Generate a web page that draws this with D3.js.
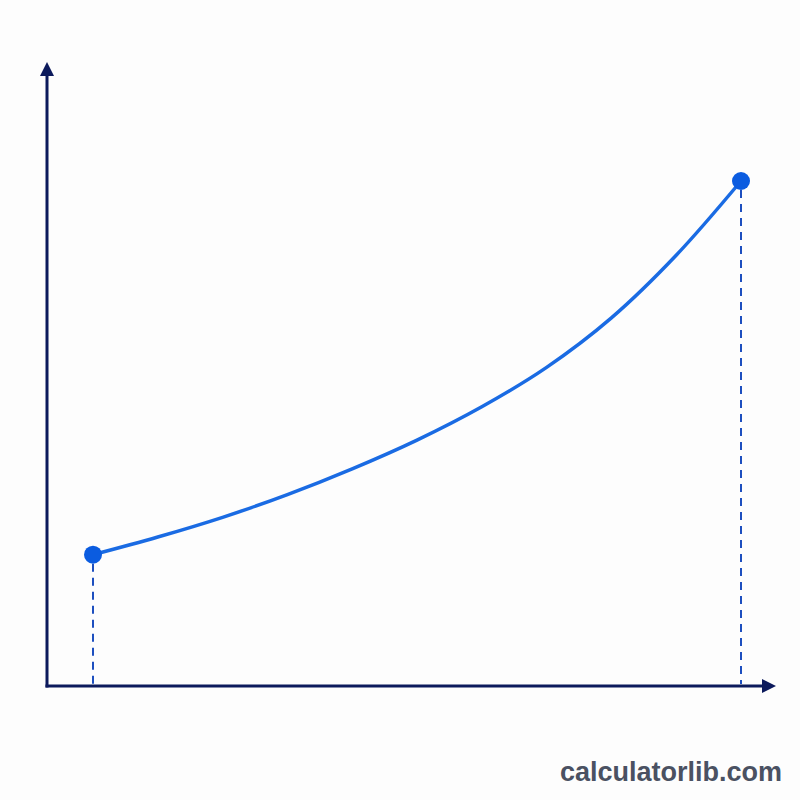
<!DOCTYPE html>
<html>
<head>
<meta charset="utf-8">
<script src="https://cdn.jsdelivr.net/npm/d3@7"></script>
<style>
  html, body { margin: 0; padding: 0; background: #fdfdfd; }
  svg { display: block; }
</style>
</head>
<body>
<div id="chart"></div>
<script>
// Data
const tValues = [0, 1, 2, 3, 4, 5, 6, 7, 8, 9, 10];
const yValues = [26, 29.5, 33.4, 37.9, 43.0, 48.7, 55.3, 63.1, 72.9, 85.3, 100];
const endpoints = [0, 10]; // marked points

const width = 800;
const height = 800;

const svg = d3.select('#chart')
    .append('svg')
    .attr('width', width)
    .attr('height', height);

svg.append('rect')
    .attr('width', width)
    .attr('height', height)
    .attr('fill', '#fdfdfd');

// Scales
const x = d3.scaleLinear().domain([0, 10]).range([93, 741]);
const y = d3.scaleLinear().domain([0, 100]).range([686, 181]);

const axisColor = '#0c1a5c';
const originX = 47;
const originY = y(0);

// Axes with arrows
svg.append('line')
    .attr('x1', originX).attr('y1', originY + 1.5)
    .attr('x2', originX).attr('y2', 72)
    .attr('stroke', axisColor)
    .attr('stroke-width', 3);
svg.append('path')
    .attr('d', `M${originX - 7},76 L${originX},62 L${originX + 7},76 Z`)
    .attr('fill', axisColor);

svg.append('line')
    .attr('x1', originX - 1.5).attr('y1', originY)
    .attr('x2', 766).attr('y2', originY)
    .attr('stroke', axisColor)
    .attr('stroke-width', 3);
svg.append('path')
    .attr('d', `M762,${originY - 7} L776,${originY} L762,${originY + 7} Z`)
    .attr('fill', axisColor);

// Dashed drop lines
svg.selectAll('.drop')
    .data(endpoints)
    .enter()
    .append('line')
    .attr('class', 'drop')
    .attr('x1', d => x(d))
    .attr('x2', d => x(d))
    .attr('y1', d => y(yValues[tValues.indexOf(d)]) + 9)
    .attr('y2', originY - 2)
    .attr('stroke', '#1d4fbf')
    .attr('stroke-width', 2)
    .attr('stroke-dasharray', '8,6');

// Curve
const pts = tValues.map((t, i) => [t, yValues[i]]);
const line = d3.line()
    .x(d => x(d[0]))
    .y(d => y(d[1]))
    .curve(d3.curveCatmullRom.alpha(0.5));

svg.append('path')
    .datum(pts)
    .attr('d', line)
    .attr('fill', 'none')
    .attr('stroke', '#1a6be3')
    .attr('stroke-width', 3.5);

// End points
svg.selectAll('.pt')
    .data(endpoints)
    .enter()
    .append('circle')
    .attr('class', 'pt')
    .attr('cx', d => x(d))
    .attr('cy', d => y(yValues[tValues.indexOf(d)]))
    .attr('r', 9)
    .attr('fill', '#0b5ce0');

// Watermark
svg.append('text')
    .attr('x', 782)
    .attr('y', 781)
    .attr('text-anchor', 'end')
    .attr('font-family', '"Liberation Sans", Arial, sans-serif')
    .attr('font-weight', 'bold')
    .attr('font-size', 27)
    .attr('fill', '#4a5162')
    .text('calculatorlib.com');
</script>
</body>
</html>
